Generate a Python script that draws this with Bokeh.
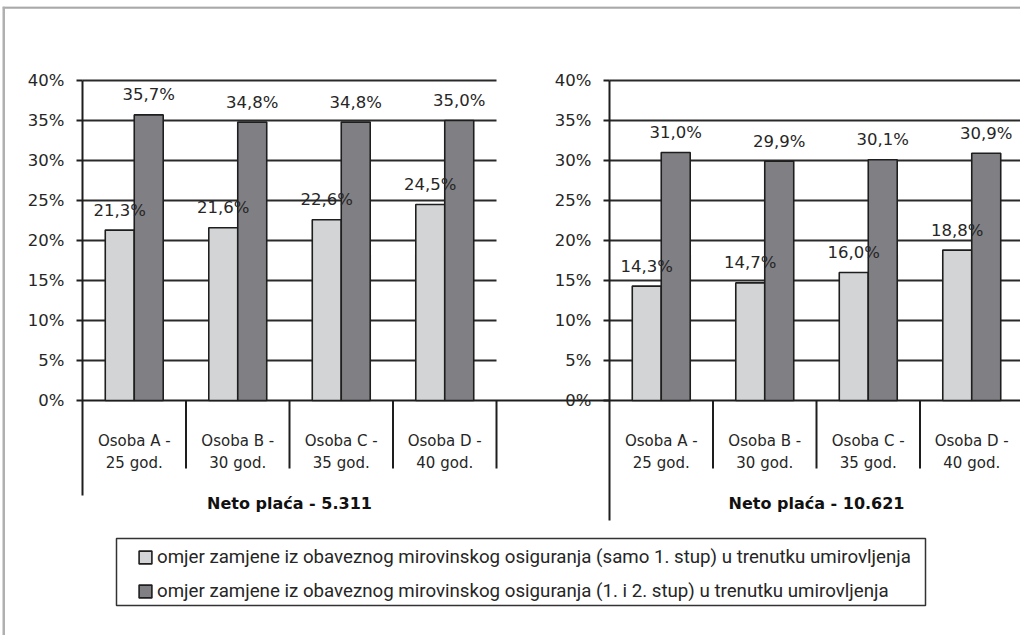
from bokeh.plotting import figure
from bokeh.models import (ColumnDataSource, LinearAxis, FixedTicker, PrintfTickFormatter,
                          Span, Legend, LegendItem, Range1d, BoxAnnotation)
from bokeh.core.properties import value
from bokeh.embed import file_html
from bokeh.resources import INLINE

# ---------------- data ----------------
categories = ["Osoba A -", "Osoba B -", "Osoba C -", "Osoba D -"]
ages = ["25 god.", "30 god.", "35 god.", "40 god."]
groups = ["Neto plaća - 5.311", "Neto plaća - 10.621"]
series_names = [
    "omjer zamjene iz obaveznog mirovinskog osiguranja (samo 1. stup) u trenutku umirovljenja",
    "omjer zamjene iz obaveznog mirovinskog osiguranja (1. i 2. stup) u trenutku umirovljenja",
]
pillar1_low = [21.3, 21.6, 22.6, 24.5]
pillar12_low = [35.7, 34.8, 34.8, 35.0]
pillar1_high = [14.3, 14.7, 16.0, 18.8]
pillar12_high = [31.0, 29.9, 30.1, 30.9]
y_ticks = [0, 5, 10, 15, 20, 25, 30, 35, 40]

# ---------------- layout constants ----------------
W, H = 1018, 629
PAGE_X0, PAGE_Y0 = 2, 6          # figure position on page
AXIS_PX = 82                     # page x of left value axis
CAT_PX = 103.5                   # pixels per category
ZERO_PY = 400                    # page y of 0 %
UNIT_PY = 8.0                    # pixels per 1 %
GAP = 113 / CAT_PX               # gap between the two panels (category units)
BAR_W = 0.28

x_start = (PAGE_X0 - AXIS_PX) / CAT_PX
x_end = (PAGE_X0 + W - AXIS_PX) / CAT_PX
y_end = (ZERO_PY - PAGE_Y0) / UNIT_PY
y_start = (ZERO_PY - (PAGE_Y0 + H)) / UNIT_PY


def py(page_y):
    return (ZERO_PY - page_y) / UNIT_PY


def px(page_x):
    return (page_x - AXIS_PX) / CAT_PX


LIGHT = "#d3d4d6"
DARK = "#808084"
INK = "#1e1e1e"
TXT = "#262626"

p = figure(width=W, height=H, x_range=Range1d(x_start, x_end), y_range=Range1d(y_start, y_end),
           output_backend="svg", toolbar_location=None,
           x_axis_location=None, y_axis_location=None)
p.min_border = 0
p.min_border_left = 0
p.min_border_right = 0
p.min_border_top = 0
p.min_border_bottom = 0
p.outline_line_color = None
p.grid.visible = False
p.margin = (6, 0, 0, 2)
p.background_fill_color = "white"
p.border_fill_color = "white"

# outer frame of the picture
p.add_layout(Span(location=py(7), dimension="width", line_color="#a9a9a9", line_width=2.5))
p.add_layout(Span(location=px(3), dimension="height", line_color="#b0b0b0", line_width=3))

panel_starts = [0.0, 4.0 + GAP]
panel_data = [(pillar1_low, pillar12_low), (pillar1_high, pillar12_high)]
bottoms = [py(495), py(520)]

# grid lines
for start in panel_starts:
    gl = ColumnDataSource(dict(x0=[start] * (len(y_ticks) - 1), x1=[start + len(categories)] * (len(y_ticks) - 1),
                               y=y_ticks[1:]))
    p.segment(x0="x0", y0="y", x1="x1", y1="y", source=gl, line_color="#2a2a2a", line_width=1.8)

# zero line (category axis line)
p.segment(x0=[0], y0=[0], x1=[x_end], y1=[0], line_color=INK, line_width=2)

# category separators
for start in panel_starts:
    xs = [start + k for k in range(1, len(categories) + 1)]
    p.segment(x0=xs, y0=[0] * len(xs), x1=xs, y1=[py(468)] * len(xs), line_color=INK, line_width=2)

renderers = []
label_sources = []
for start, (s1, s2) in zip(panel_starts, panel_data):
    centers = [start + i + 0.5 for i in range(len(categories))]
    rs = []
    for vals, color, shift in ((s1, LIGHT, -BAR_W / 2), (s2, DARK, BAR_W / 2)):
        src = ColumnDataSource(dict(
            x=[c + shift for c in centers], top=vals,
            lab=[("%.1f" % v).replace(".", ",") + "%" for v in vals]))
        r = p.vbar(x="x", top="top", bottom=0, width=BAR_W, source=src,
                   fill_color=color, line_color=INK, line_width=1.6)
        label_sources.append(src)
        rs.append(r)
    renderers.append(rs)
    cat_src = ColumnDataSource(dict(x=centers, c=categories, a=ages))
    p.text(x="x", y=py(440), text="c", source=cat_src, text_align="center", text_baseline="middle",
           text_font=value("DejaVu Sans"), text_font_size="15px", text_color=TXT)
    p.text(x="x", y=py(462), text="a", source=cat_src, text_align="center", text_baseline="middle",
           text_font=value("DejaVu Sans"), text_font_size="15px", text_color=TXT)

# data labels on top of all bars
for src in label_sources:
    p.text(x="x", y="top", text="lab", source=src, y_offset=-20,
           text_align="center", text_baseline="middle",
           text_font=value("DejaVu Sans"), text_font_size="16.5px", text_color=TXT)

grp_src = ColumnDataSource(dict(x=[s + len(categories) / 2 for s in panel_starts], g=groups))
p.text(x="x", y=py(503), text="g", source=grp_src, text_align="center", text_baseline="middle",
       text_font=value("DejaVu Sans"), text_font_size="16px", text_font_style="bold", text_color="#111")

# value axes
for start, bottom in zip(panel_starts, bottoms):
    ax = LinearAxis(fixed_location=start, ticker=FixedTicker(ticks=y_ticks),
                    formatter=PrintfTickFormatter(format="%d%%"), bounds=(bottom, y_ticks[-1]))
    ax.axis_line_color = INK
    ax.axis_line_width = 2
    ax.major_tick_line_color = INK
    ax.major_tick_line_width = 1.8
    ax.major_tick_out = 6
    ax.major_tick_in = 0
    ax.minor_tick_line_color = None
    ax.major_label_standoff = 12
    ax.major_label_text_font = "DejaVu Sans"
    ax.major_label_text_font_size = "16.5px"
    ax.major_label_text_color = TXT
    p.add_layout(ax, "left")

# legend frame
p.add_layout(BoxAnnotation(left=px(116), right=px(925), top=py(538), bottom=py(605),
                           fill_color="white", fill_alpha=1, line_color="#333333", line_width=1.5,
                           line_alpha=1))

legend = Legend(items=[LegendItem(label=series_names[0], renderers=[renderers[0][0]]),
                       LegendItem(label=series_names[1], renderers=[renderers[0][1]])],
                location=(135, 33), orientation="vertical")
legend.margin = 0
legend.padding = 0
legend.spacing = 12
legend.label_height = 20
legend.glyph_width = 16
legend.glyph_height = 16
legend.label_standoff = 4
legend.label_text_font = "Roboto"
legend.label_text_font_size = "18.7px"
legend.label_text_color = TXT
legend.border_line_color = None
legend.background_fill_alpha = 0
p.add_layout(legend)

open("out.html", "w").write(file_html(p, INLINE))
